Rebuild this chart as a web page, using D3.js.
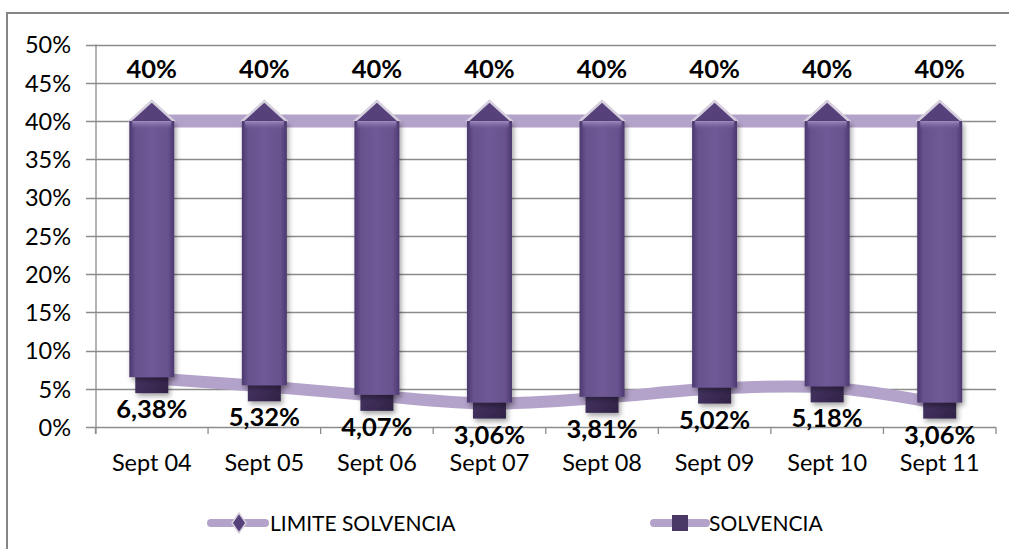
<!DOCTYPE html>
<html>
<head>
<meta charset="utf-8">
<script src="https://cdn.jsdelivr.net/npm/d3@7"></script>
<style>
  body { margin: 0; background: #fff; overflow: hidden; }
  svg text { font-family: Lato, "Open Sans", sans-serif; fill: #000; }
</style>
</head>
<body>
<div class="svgContainer"></div>
<script>
// Data
var CATEGORIES = ["Sept 04", "Sept 05", "Sept 06", "Sept 07", "Sept 08", "Sept 09", "Sept 10", "Sept 11"];
var LIMITE = [40, 40, 40, 40, 40, 40, 40, 40];
var SOLVENCIA = [6.38, 5.32, 4.07, 3.06, 3.81, 5.02, 5.18, 3.06];
var Y_TICKS = [0, 5, 10, 15, 20, 25, 30, 35, 40, 45, 50];
var SERIES_NAMES = ["LIMITE SOLVENCIA", "SOLVENCIA"];
// End data

var W = 1009, H = 549;
var LINE_COLOR = "#b3a2c9";

var svg = d3.select(".svgContainer").append("svg")
    .attr("width", W)
    .attr("height", H)
    .style("display", "block");

var defs = svg.append("defs");

// bar gradient (lighter in the middle, darker edges)
var g1 = defs.append("linearGradient").attr("id", "barGrad").attr("x1", 0).attr("x2", 1).attr("y1", 0).attr("y2", 0);
[["0%", "#4b386e"], ["14%", "#67518d"], ["50%", "#6f5a96"], ["86%", "#67518d"], ["100%", "#4b386e"]]
    .forEach(function(s) { g1.append("stop").attr("offset", s[0]).attr("stop-color", s[1]); });

var g2 = defs.append("linearGradient").attr("id", "markGrad").attr("x1", 0).attr("x2", 1).attr("y1", 0).attr("y2", 1);
[["0%", "#4a3868"], ["50%", "#3f2e5a"], ["100%", "#2f2244"]]
    .forEach(function(s) { g2.append("stop").attr("offset", s[0]).attr("stop-color", s[1]); });

var g3 = defs.append("linearGradient").attr("id", "topGrad").attr("x1", 0).attr("x2", 0).attr("y1", 0).attr("y2", 1);
g3.append("stop").attr("offset", "0%").attr("stop-color", "#a592c4").attr("stop-opacity", 0.9);
g3.append("stop").attr("offset", "100%").attr("stop-color", "#6f5a96").attr("stop-opacity", 0);

var shadow = defs.append("filter").attr("id", "shadow").attr("x", "-30%").attr("y", "-10%").attr("width", "160%").attr("height", "130%");
shadow.append("feDropShadow").attr("dx", 2).attr("dy", 3).attr("stdDeviation", 2.5)
    .attr("flood-color", "#000").attr("flood-opacity", 0.35);

// chart frame (right and bottom edges fall outside the picture)
svg.append("rect")
    .attr("x", 7).attr("y", 13)
    .attr("width", W + 10).attr("height", H)
    .attr("fill", "none")
    .attr("stroke", "#868686")
    .attr("stroke-width", 2);

// scales
var scaleX = d3.scaleBand()
    .domain(CATEGORIES)
    .range([95.5, 996]);

var scaleY = d3.scaleLinear()
    .domain([0, 50])
    .range([427, 44.5]);

function cx(i) { return scaleX(CATEGORIES[i]) + scaleX.bandwidth() / 2; }
function pct(v) { return d3.format(".2f")(v).replace(".", ",") + "%"; }

// gridlines
svg.append("g").selectAll("line")
    .data(Y_TICKS)
    .enter().append("line")
    .attr("x1", 86).attr("x2", 996)
    .attr("y1", function(d) { return Math.round(scaleY(d)) + 0.5; })
    .attr("y2", function(d) { return Math.round(scaleY(d)) + 0.5; })
    .attr("stroke", "#8c8c8c")
    .attr("stroke-width", 1.3);

// y axis
var yAxis = d3.axisLeft(scaleY)
    .tickValues(Y_TICKS)
    .tickSize(0)
    .tickPadding(0)
    .tickFormat(function(d) { return d + "%"; });

var gy = svg.append("g")
    .attr("transform", "translate(71,0)")
    .call(yAxis);
gy.select(".domain").remove();
gy.selectAll("text").attr("font-size", 23.5).attr("dy", "0.36em");

svg.append("line")
    .attr("x1", 96).attr("x2", 96)
    .attr("y1", scaleY(50)).attr("y2", 434)
    .attr("stroke", "#8c8c8c").attr("stroke-width", 1.3);

// x axis ticks at band boundaries
var xAxis = d3.axisBottom(scaleX).tickSize(0).tickPadding(0);
var gx = svg.append("g")
    .attr("transform", "translate(0,471)")
    .call(xAxis);
gx.select(".domain").remove();
gx.selectAll("text").attr("font-size", 23.5).attr("dy", 0).attr("y", 0);

svg.append("g").selectAll("line")
    .data(d3.range(CATEGORIES.length + 1))
    .enter().append("line")
    .attr("x1", function(i) { return scaleX.range()[0] + i * scaleX.step(); })
    .attr("x2", function(i) { return scaleX.range()[0] + i * scaleX.step(); })
    .attr("y1", scaleY(0)).attr("y2", 434)
    .attr("stroke", "#8c8c8c").attr("stroke-width", 1.3);

// series lines
var lineLimite = d3.line()
    .x(function(d, i) { return cx(i); })
    .y(function(d) { return scaleY(d); });

var lineSolv = d3.line()
    .x(function(d, i) { return cx(i); })
    .y(function(d) { return scaleY(d); })
    .curve(d3.curveCatmullRom.alpha(0.5));

svg.append("path")
    .attr("d", lineLimite(LIMITE))
    .attr("fill", "none")
    .attr("stroke", LINE_COLOR)
    .attr("stroke-width", 13);

svg.append("path")
    .attr("d", lineSolv(SOLVENCIA))
    .attr("fill", "none")
    .attr("stroke", LINE_COLOR)
    .attr("stroke-width", 12)
    .attr("stroke-linecap", "round");

var BAR_W = 45, MARK = 33;

// diamond markers (limit)
svg.append("g").selectAll("path")
    .data(LIMITE)
    .enter().append("path")
    .attr("d", function(d, i) {
        var x = cx(i), y = scaleY(d);
        return "M" + x + "," + (y - 20) + "L" + (x + 22) + "," + y + "L" + x + "," + (y + 20) + "L" + (x - 22) + "," + y + "Z";
    })
    .attr("fill", "#56417b")
    .attr("stroke", "#d6d0de")
    .attr("stroke-width", 2.5);

// square markers (solvencia)
svg.append("g").selectAll("rect")
    .data(SOLVENCIA)
    .enter().append("rect")
    .attr("x", function(d, i) { return cx(i) - MARK / 2; })
    .attr("y", function(d) { return scaleY(d) - 1.5 - MARK / 2; })
    .attr("width", MARK)
    .attr("height", MARK)
    .attr("fill", "url(#markGrad)")
    .attr("filter", "url(#shadow)");

// up/down bars between the two series
var bars = svg.append("g").selectAll("g")
    .data(SOLVENCIA)
    .enter().append("g");

bars.append("rect")
    .attr("x", function(d, i) { return cx(i) - BAR_W / 2; })
    .attr("y", function(d, i) { return scaleY(LIMITE[i]); })
    .attr("width", BAR_W)
    .attr("height", function(d, i) { return scaleY(d) - 1 - scaleY(LIMITE[i]); })
    .attr("fill", "url(#barGrad)")
    .attr("filter", "url(#shadow)");

bars.append("rect")
    .attr("x", function(d, i) { return cx(i) - BAR_W / 2 + 3; })
    .attr("y", function(d, i) { return scaleY(LIMITE[i]); })
    .attr("width", BAR_W - 6)
    .attr("height", 9)
    .attr("fill", "url(#topGrad)");

// data labels
svg.append("g").selectAll("text")
    .data(LIMITE)
    .enter().append("text")
    .attr("x", function(d, i) { return cx(i); })
    .attr("y", 78)
    .attr("text-anchor", "middle")
    .attr("font-size", 25.5)
    .attr("font-weight", "bold")
    .text(function(d) { return d + "%"; });

svg.append("g").selectAll("text")
    .data(SOLVENCIA)
    .enter().append("text")
    .attr("x", function(d, i) { return cx(i); })
    .attr("y", function(d) { return scaleY(d) + 40; })
    .attr("text-anchor", "middle")
    .attr("font-size", 25.5)
    .attr("font-weight", "bold")
    .text(function(d) { return pct(d); });

// legend
var legend = svg.append("g").attr("transform", "translate(0,523)");

var leg1 = legend.append("g").attr("transform", "translate(208,0)");
leg1.append("line").attr("x1", 3).attr("x2", 57).attr("y1", 0).attr("y2", 0)
    .attr("stroke", LINE_COLOR).attr("stroke-width", 8).attr("stroke-linecap", "round");
leg1.append("path").attr("d", "M31,-10L38,0L31,10L24,0Z").attr("fill", "#56417b").attr("stroke", "#d6d0de").attr("stroke-width", 1.5);
leg1.append("text").attr("x", 62).attr("y", 0).attr("dy", "0.36em").attr("font-size", 21).text(SERIES_NAMES[0]);

var leg2 = legend.append("g").attr("transform", "translate(651,0)");
leg2.append("line").attr("x1", 3).attr("x2", 55).attr("y1", 0).attr("y2", 0)
    .attr("stroke", LINE_COLOR).attr("stroke-width", 8).attr("stroke-linecap", "round");
leg2.append("rect").attr("x", 21).attr("y", -8).attr("width", 16).attr("height", 16).attr("fill", "#4a3866");
leg2.append("text").attr("x", 58).attr("y", 0).attr("dy", "0.36em").attr("font-size", 21).text(SERIES_NAMES[1]);
</script>
</body>
</html>
